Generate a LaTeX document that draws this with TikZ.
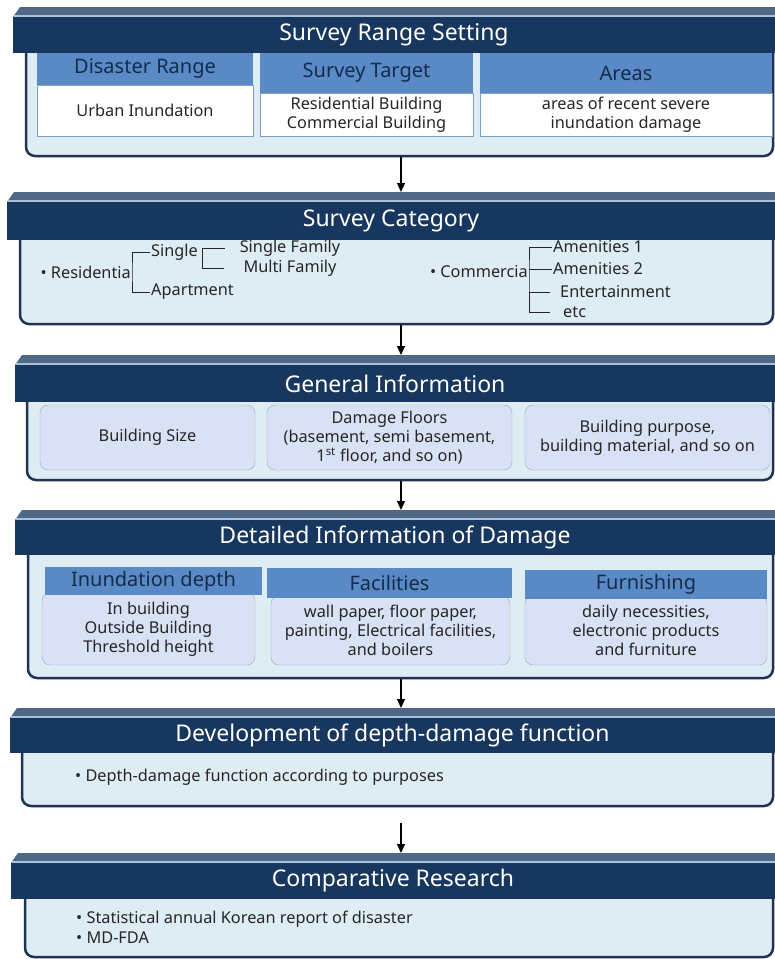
\documentclass[tikz,border=0pt]{standalone}
\usepackage{fontspec}
\setmainfont{Noto Sans}
\usepackage{tikz}
\usetikzlibrary{arrows.meta}

\definecolor{navy}{HTML}{17375E}
\definecolor{bevelgray}{HTML}{4E6886}
\definecolor{bevelline}{HTML}{A9C2DA}
\definecolor{bodyfill}{HTML}{DEEDF4}
\definecolor{bodyline}{HTML}{1E3452}
\definecolor{subblue}{HTML}{5A8AC6}
\definecolor{subtext}{HTML}{142C4C}
\definecolor{cellline}{HTML}{7F9FC4}
\definecolor{pillfill}{HTML}{D9E1F5}
\definecolor{pillline}{HTML}{93A9BF}
\definecolor{bodytext}{HTML}{262626}

\newcommand{\ttlfont}{\fontsize{23}{26}\selectfont}
\newcommand{\hdfont}{\fontsize{20}{23}\selectfont}
\newcommand{\bdfont}{\fontsize{16.3}{19}\selectfont}

\tikzstyle{bevel} = [fill=bevelgray]
\tikzstyle{bevellight} = [draw=bevelline, line width=1.5pt]
\tikzstyle{header} = [fill=navy, text=white, inner sep=0pt, font=\ttlfont]
\tikzstyle{panel} = [draw=bodyline, line width=2.5pt, fill=bodyfill, rounded corners=9pt, inner sep=0pt]
\tikzstyle{cellhead} = [fill=subblue, text=subtext, inner sep=0pt, font=\hdfont]
\tikzstyle{cellbody} = [draw=cellline, fill=white, text=bodytext, inner sep=0pt, align=center, font=\bdfont]
\tikzstyle{pill} = [draw=pillline, fill=pillfill, text=bodytext, rounded corners=8pt, inner sep=0pt, align=center, font=\bdfont]
\tikzstyle{txt} = [inner sep=1pt, text=bodytext, font=\bdfont]
\tikzstyle{brace} = [draw=bodytext, line width=1pt]
\tikzstyle{flow} = [-{Triangle[length=9pt, width=8pt]}, line width=1.2pt]

\begin{document}
\begin{tikzpicture}[x=1pt, y=-1pt]
  \useasboundingbox (0,0) rectangle (775,959);

  % survey range setting
  \node[panel, minimum width=747pt, minimum height=116pt] (body1) at (399.5,98) {};
  \fill[bevel] (13,17) -- (20,7) -- (775,7) -- (775,17) -- cycle;
  \draw[bevellight] (14,16) -- (775,16);
  \node[header, minimum width=762pt, minimum height=36pt] (hdr1) at (394,35) {Survey Range Setting};
  \node[cellhead, minimum width=216pt, minimum height=32pt] (drhead) at (145,69) {Disaster Range};
  \node[cellbody, minimum width=216pt, minimum height=51pt] (drbody) at (145,110.5) {Urban Inundation};
  \node[cellhead, minimum width=213pt, minimum height=40pt] (sthead) at (366.5,73) {Survey Target};
  \node[cellbody, minimum width=213pt, minimum height=43pt] (stbody) at (366.5,114.5) {Residential Building\\Commercial Building};
  \node[cellhead, minimum width=292pt, minimum height=40pt] (arhead) at (626,73) {Areas};
  \node[cellbody, minimum width=292pt, minimum height=43pt] (arbody) at (626,114.5) {areas of recent severe\\inundation damage};

  % survey category
  \node[panel, minimum width=753pt, minimum height=99pt] (body2) at (396.5,274.5) {};
  \fill[bevel] (7,202) -- (14,192) -- (775,192) -- (775,202) -- cycle;
  \draw[bevellight] (8,201) -- (775,201);
  \node[header, minimum width=768pt, minimum height=38pt] (hdr2) at (391,221) {Survey Category};
  \node[txt, anchor=east] (res) at (132,272) {• Residentia};
  \node[txt, anchor=west] (single) at (150,252) {Single};
  \node[txt, anchor=west] (apt) at (150,292) {Apartment};
  \node[txt] (sfam) at (290,248) {Single Family};
  \node[txt] (mfam) at (290,268) {Multi Family};
  \draw[brace] (single.west) -| (res.east) |- (apt.west);
  \draw[brace] ([xshift=-14pt]sfam.west) -| ([xshift=3pt]single.east) |- ([xshift=-18pt]mfam.west);
  \node[txt, anchor=east] (com) at (529,272) {• Commercia};
  \node[txt, anchor=west] (am1) at (552,247) {Amenities 1};
  \node[txt, anchor=west] (am2) at (552,269) {Amenities 2};
  \node[txt, anchor=west] (ent) at (559,292) {Entertainment};
  \node[txt, anchor=west] (etc) at (562,312) {etc};
  \draw[brace] (am1.west) -| (com.east) |- ([xshift=-12pt]etc.west);
  \draw[brace] (am2.west) -- (am2.west -| com.east);
  \draw[brace] ([xshift=-9pt]ent.west) -- (ent.west -| com.east);

  % general information
  \node[panel, minimum width=746pt, minimum height=90pt] (body3) at (400,435) {};
  \fill[bevel] (15,365) -- (22,355) -- (775,355) -- (775,365) -- cycle;
  \draw[bevellight] (16,364) -- (775,364);
  \node[header, minimum width=760pt, minimum height=37pt] (hdr3) at (395,383.5) {General Information};
  \node[pill, minimum width=215pt, minimum height=65pt] (bsize) at (147.5,437.5) {Building Size};
  \node[pill, minimum width=245pt, minimum height=65pt] (dfloor) at (389.5,437.5) {Damage Floors\\(basement, semi basement,\\1\textsuperscript{st} floor, and so on)};
  \node[pill, minimum width=245pt, minimum height=65pt] (bpurp) at (647.5,437.5) {Building purpose,\\building material, and so on};

  % detailed information of damage
  \node[panel, minimum width=745pt, minimum height=138pt] (body4) at (400.5,609) {};
  \fill[bevel] (15,520) -- (22,510) -- (775,510) -- (775,520) -- cycle;
  \draw[bevellight] (16,519) -- (775,519);
  \node[header, minimum width=760pt, minimum height=35pt] (hdr4) at (395,537.5) {Detailed Information of Damage};
  \node[pill, minimum width=213pt, minimum height=72pt] (idbox) at (148.5,629) {In building\\Outside Building\\Threshold height};
  \node[pill, minimum width=239pt, minimum height=69pt] (facbox) at (390.5,630.5) {wall paper, floor paper,\\painting, Electrical facilities,\\and boilers};
  \node[pill, minimum width=242pt, minimum height=69pt] (furbox) at (646,630.5) {daily necessities,\\electronic products\\and furniture};
  \node[cellhead, minimum width=217pt, minimum height=28pt] (idhead) at (153.5,581) {Inundation depth};
  \node[cellhead, minimum width=245pt, minimum height=30pt] (fachead) at (389.5,583) {Facilities};
  \node[cellhead, minimum width=242pt, minimum height=29pt] (furhead) at (646,584.5) {Furnishing};

  % development of depth-damage function
  \node[panel, minimum width=751pt, minimum height=66pt] (body5) at (397.5,773) {};
  \fill[bevel] (10,718) -- (17,708) -- (775,708) -- (775,718) -- cycle;
  \draw[bevellight] (11,717) -- (775,717);
  \node[header, minimum width=765pt, minimum height=35pt] (hdr5) at (392.5,735.5) {Development of depth-damage function};
  \node[txt, anchor=west] (ddf) at (74,777) {• Depth-damage function according to purposes};

  % comparative research
  \node[panel, minimum width=748pt, minimum height=72pt] (body6) at (399,921) {};
  \fill[bevel] (11,863) -- (18,853) -- (775,853) -- (775,863) -- cycle;
  \draw[bevellight] (12,862) -- (775,862);
  \node[header, minimum width=764pt, minimum height=36pt] (hdr6) at (393,881) {Comparative Research};
  \node[txt, anchor=west, align=left, font=\fontsize{16.3}{20}\selectfont] (stat) at (75,927) {• Statistical annual Korean report of disaster\\• MD-FDA};

  % arrows between the stages
  \coordinate (top2) at (401,192);
  \coordinate (top3) at (401,355);
  \coordinate (top4) at (401,510);
  \coordinate (top5) at (401,708);
  \coordinate (top6) at (401,853);
  \draw[flow] (body1.south -| top2) -- (top2);
  \draw[flow] (body2.south -| top3) -- (top3);
  \draw[flow] (body3.south -| top4) -- (top4);
  \draw[flow] (body4.south -| top5) -- (top5);
  \draw[flow] ([yshift=-16pt]body5.south -| top6) -- (top6);

\end{tikzpicture}
\end{document}
